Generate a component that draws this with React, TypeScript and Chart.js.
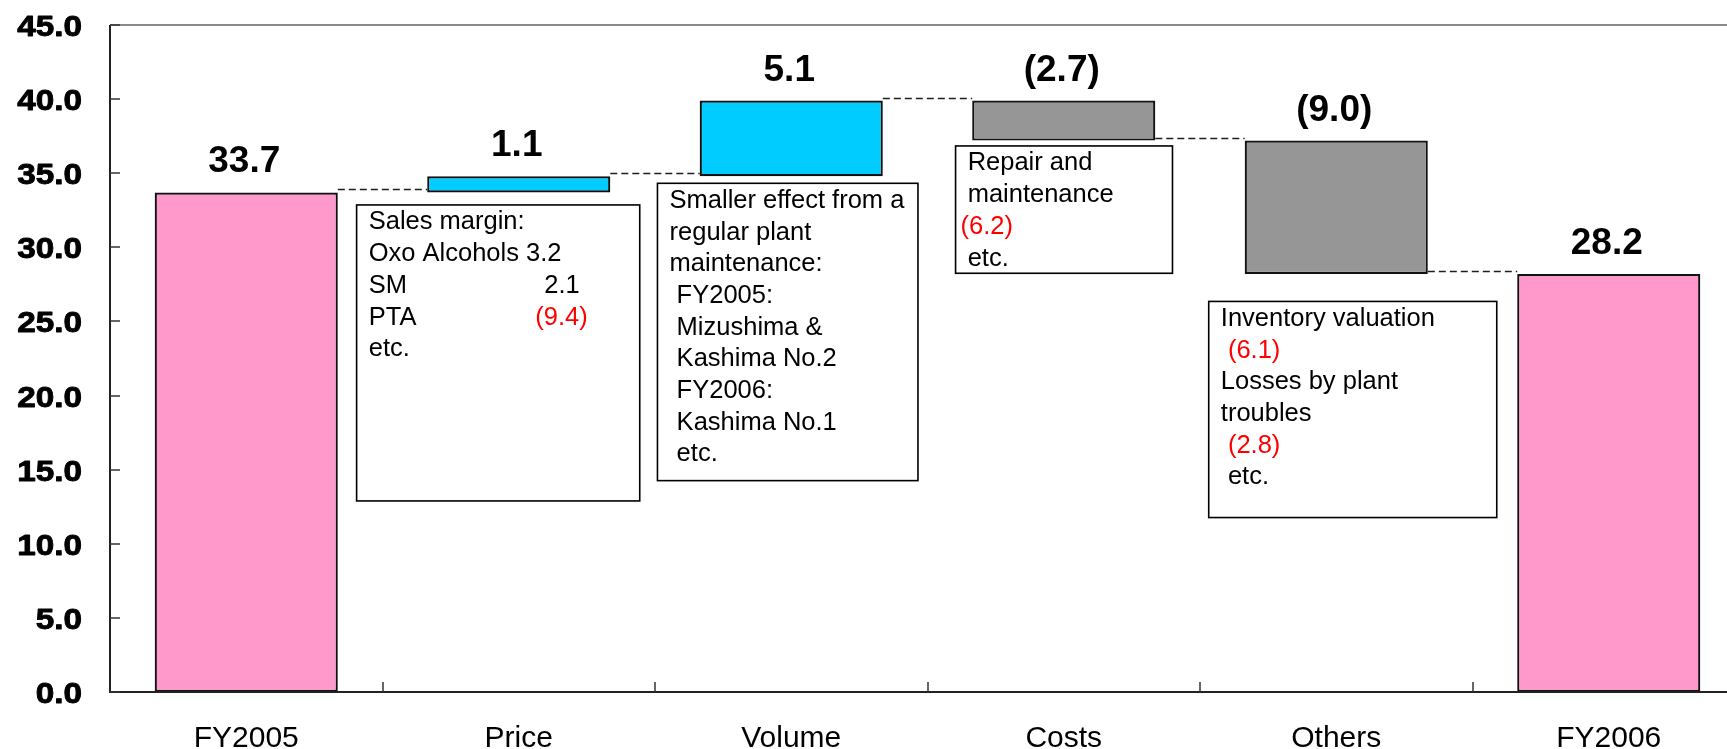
import { useEffect, useRef } from 'react';
import { Chart, registerables } from 'chart.js';

Chart.register(...registerables);

// Operating income bridge, FY2005 -> FY2006 (billion yen)
const categories = ['FY2005', 'Price', 'Volume', 'Costs', 'Others', 'FY2006'];
const changes = [33.7, 1.1, 5.1, -2.7, -9.0, 28.2];
const isTotal = [true, false, false, false, false, true];
const yTickValues = [0, 5, 10, 15, 20, 25, 30, 35, 40, 45];

type Seg = { t: string; at?: number; red?: boolean };
type Note = { cat: number; x0: number; x1: number; top: number; bottom: number; lines: Seg[][] };

const notes: Note[] = [
  {
    cat: 1, x0: -0.595, x1: 0.444, top: 32.86, bottom: 12.89,
    lines: [
      [{ t: ' Sales margin:' }],
      [{ t: ' Oxo Alcohols 3.2' }],
      [{ t: ' SM' }, { t: '2.1', at: 182.6 }],
      [{ t: ' PTA' }, { t: '(9.4)', at: 173.7, red: true }],
      [{ t: ' etc.' }],
    ],
  },
  {
    cat: 2, x0: -0.491, x1: 0.465, top: 34.32, bottom: 14.26,
    lines: [
      [{ t: ' Smaller effect from a' }],
      [{ t: ' regular plant' }],
      [{ t: ' maintenance:' }],
      [{ t: '  FY2005:' }],
      [{ t: '  Mizushima &' }],
      [{ t: '  Kashima No.2' }],
      [{ t: '  FY2006:' }],
      [{ t: '  Kashima No.1' }],
      [{ t: '  etc.' }],
    ],
  },
  {
    cat: 3, x0: -0.397, x1: 0.399, top: 36.84, bottom: 28.25,
    lines: [
      [{ t: ' Repair and' }],
      [{ t: ' maintenance' }],
      [{ t: '(6.2)', red: true }],
      [{ t: ' etc.' }],
    ],
  },
  {
    cat: 4, x0: -0.468, x1: 0.589, top: 26.35, bottom: 11.77,
    lines: [
      [{ t: ' Inventory valuation' }],
      [{ t: '  (6.1)', red: true }],
      [{ t: ' Losses by plant' }],
      [{ t: ' troubles' }],
      [{ t: '  (2.8)', red: true }],
      [{ t: '  etc.' }],
    ],
  },
];

const FONT = '"Liberation Sans", Arial, Helvetica, sans-serif';
const PINK = '#FF99CC';
const CYAN = '#00CCFF';
const GREY = '#969696';

function fmt(v: number): string {
  return v < 0 ? `(${Math.abs(v).toFixed(1)})` : v.toFixed(1);
}

// floating [low, high] ranges and running levels for the waterfall
const ranges: [number, number][] = [];
const levels: number[] = [];
{
  let run = 0;
  changes.forEach((v, i) => {
    if (isTotal[i]) {
      ranges.push([0, v]);
      run = v;
    } else {
      ranges.push([run, run + v]);
      run += v;
    }
    levels.push(run);
  });
}
const barColors = changes.map((v, i) => (isTotal[i] ? PINK : v >= 0 ? CYAN : GREY));

const decorPlugin = {
  id: 'bridgeDecor',
  afterDatasetsDraw(chart: any) {
    const ctx: CanvasRenderingContext2D = chart.ctx;
    const xs = chart.scales.x;
    const ys = chart.scales.y;
    const area = chart.chartArea;
    const meta = chart.getDatasetMeta(0);
    const catW = xs.getPixelForValue(1) - xs.getPixelForValue(0);

    ctx.save();

    // connector dashes between adjacent bars
    ctx.strokeStyle = '#1e1e1e';
    ctx.lineWidth = 1.6;
    ctx.setLineDash([7, 4]);
    for (let i = 0; i < categories.length - 1; i++) {
      const a = meta.data[i];
      const b = meta.data[i + 1];
      const y = Math.round(ys.getPixelForValue(levels[i])) - 2.5;
      ctx.beginPath();
      ctx.moveTo(a.x + a.width / 2, y);
      ctx.lineTo(b.x - b.width / 2, y);
      ctx.stroke();
    }
    ctx.setLineDash([]);

    // explanatory boxes
    const fs = 25.5;
    ctx.font = `${fs}px ${FONT}`;
    ctx.textBaseline = 'alphabetic';
    ctx.textAlign = 'left';
    notes.forEach((n) => {
      const cx = xs.getPixelForValue(n.cat);
      const l = cx + n.x0 * catW;
      const r = cx + n.x1 * catW;
      const t = ys.getPixelForValue(n.top);
      const btm = ys.getPixelForValue(n.bottom);
      ctx.fillStyle = '#fff';
      ctx.fillRect(l, t, r - l, btm - t);
      ctx.strokeStyle = '#000';
      ctx.lineWidth = 1.6;
      ctx.strokeRect(l, t, r - l, btm - t);
      n.lines.forEach((segs, li) => {
        const by = t + 24.5 + li * 31.7;
        let x = l + 5;
        segs.forEach((s) => {
          const sx = s.at !== undefined ? l + 5 + s.at : x;
          ctx.fillStyle = s.red ? '#FF0000' : '#000';
          ctx.fillText(s.t, sx, by);
          x = sx + ctx.measureText(s.t).width;
        });
      });
    });

    // value labels above each bar
    ctx.font = `bold 37px ${FONT}`;
    ctx.textAlign = 'center';
    ctx.fillStyle = '#000';
    meta.data.forEach((bar: any, i: number) => {
      const top = ys.getPixelForValue(Math.max(ranges[i][0], ranges[i][1]));
      ctx.fillText(fmt(changes[i]), bar.x - 2, top - 20);
    });

    // frame: top border (light), left and bottom axes (dark)
    ctx.strokeStyle = '#8a8a8a';
    ctx.lineWidth = 2;
    ctx.beginPath();
    ctx.moveTo(area.left, area.top);
    ctx.lineTo(area.right, area.top);
    ctx.stroke();

    ctx.strokeStyle = '#222';
    ctx.lineWidth = 2;
    ctx.beginPath();
    ctx.moveTo(area.left, area.top);
    ctx.lineTo(area.left, area.bottom);
    ctx.lineTo(area.right, area.bottom);
    ctx.stroke();

    // inward tick marks
    ctx.lineWidth = 1.5;
    ctx.strokeStyle = '#333';
    yTickValues.forEach((v) => {
      const y = Math.round(ys.getPixelForValue(v));
      ctx.beginPath();
      ctx.moveTo(area.left, y);
      ctx.lineTo(area.left + 10, y);
      ctx.stroke();
    });
    for (let i = 0; i < categories.length; i++) {
      const x = Math.round((xs.getPixelForValue(i) + xs.getPixelForValue(i + 1)) / 2);
      ctx.beginPath();
      ctx.moveTo(x, area.bottom);
      ctx.lineTo(x, area.bottom - 10);
      ctx.stroke();
    }

    // y-axis labels (heavy bold, slightly widened)
    ctx.fillStyle = '#000';
    ctx.strokeStyle = '#000';
    ctx.lineWidth = 0.9;
    ctx.lineJoin = 'round';
    ctx.font = `bold 30px ${FONT}`;
    ctx.textAlign = 'right';
    yTickValues.forEach((v) => {
      const y = ys.getPixelForValue(v) + 11;
      ctx.save();
      ctx.translate(area.left - 28, y);
      ctx.scale(1.11, 1);
      ctx.fillText(v.toFixed(1), 0, 0);
      ctx.strokeText(v.toFixed(1), 0, 0);
      ctx.restore();
    });

    // category labels
    ctx.font = `30px ${FONT}`;
    ctx.textAlign = 'center';
    categories.forEach((c, i) => {
      ctx.fillText(c, xs.getPixelForValue(i), area.bottom + 54.5);
    });

    ctx.restore();
  },
};

export default function App() {
  const ref = useRef<HTMLCanvasElement | null>(null);

  useEffect(() => {
    if (!ref.current) return;
    const chart = new Chart(ref.current, {
      type: 'bar',
      data: {
        labels: categories,
        datasets: [
          {
            data: ranges as any,
            backgroundColor: barColors,
            borderColor: '#111',
            borderWidth: 2.2,
            borderSkipped: false,
            barPercentage: 0.672,
            categoryPercentage: 1,
          },
        ],
      },
      options: {
        responsive: false,
        animation: false,
        devicePixelRatio: 1,
        layout: { padding: { left: 110, top: 25, right: 5, bottom: 57 } },
        plugins: { legend: { display: false }, tooltip: { enabled: false } },
        scales: {
          x: { type: 'category', display: false, offset: true },
          y: { type: 'linear', display: false, min: 0, max: 45 },
        },
      },
      plugins: [decorPlugin],
    });
    return () => chart.destroy();
  }, []);

  return (
    <div
      style={{
        position: 'fixed',
        left: 0,
        top: 0,
        width: 1727,
        height: 749,
        overflow: 'hidden',
        background: '#fff',
      }}
    >
      <canvas ref={ref} width={1750} height={749} style={{ display: 'block' }} />
    </div>
  );
}
